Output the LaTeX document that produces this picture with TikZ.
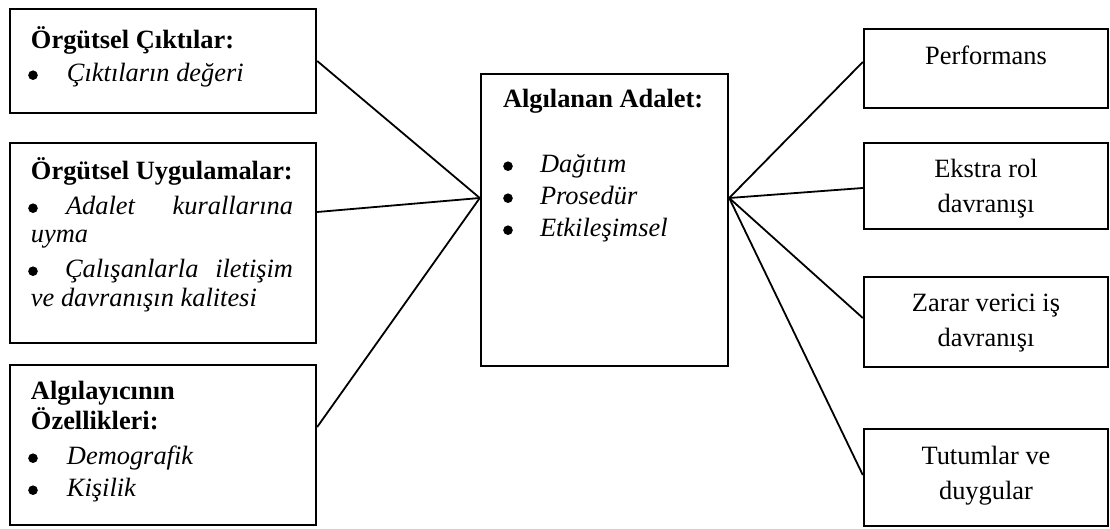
\documentclass[tikz,border=0pt]{standalone}
\usepackage{fontspec}
\setmainfont{Liberation Serif}
\usetikzlibrary{fit}
\tikzset{
  box/.style={draw, line width=1.2pt, inner sep=0pt, fill=none},
  link/.style={draw, line width=0.9pt},
  txt/.style={inner sep=0pt, outer sep=0pt, anchor=base west, font=\fs},
  ctr/.style={inner sep=0pt, outer sep=0pt, anchor=base, font=\fs},
  dot/.style={circle, fill, inner sep=0pt, minimum size=4.8pt, yshift=3.4pt},
}
\newcommand{\fs}{\fontsize{13.2pt}{16pt}\selectfont}
\begin{document}
\begin{tikzpicture}[x=0.5pt, y=-0.5pt]
\useasboundingbox (0,0) rectangle (1110,529);

% boxes
\node[box, fit={(10,9)(316,113)}]   (out)  {};
\node[box, fit={(10,143)(316,343)}] (prac) {};
\node[box, fit={(10,365)(316,525)}] (perc) {};
\node[box, fit={(481,74)(728,366)}] (just) {};
\node[box, fit={(864,29)(1108,108)}]  (perf) {};
\node[box, fit={(864,143)(1108,229)}] (extra) {};
\node[box, fit={(864,277)(1108,367)}] (harm) {};
\node[box, fit={(864,429)(1108,526)}] (att) {};

% left box 1
\node[txt] (t1a) at (31,49) {\textbf{Örgütsel Çıktılar:}};
\node[dot] (d1a) at (33,82) {};
\node[txt] (t1b) at (67,82) {\textit{Çıktıların değeri}};

% left box 2
\node[txt] (t2a) at (31,180) {\textbf{Örgütsel Uygulamalar:}};
\node[dot] (d2a) at (33,215) {};
\node[txt] (t2b) at (66,215) {\makebox[113.5pt][s]{\itshape Adalet kurallarına}};
\node[txt] (t2c) at (31,243) {\textit{uyma}};
\node[dot] (d2b) at (33,278) {};
\node[txt] (t2d) at (65,278) {\makebox[114pt][s]{\itshape Çalışanlarla iletişim}};
\node[txt] (t2e) at (31,307) {\textit{ve davranışın kalitesi}};

% left box 3
\node[txt] (t3a) at (31,400) {\textbf{Algılayıcının}};
\node[txt] (t3b) at (31,430) {\textbf{Özellikleri:}};
\node[dot] (d3a) at (33,465) {};
\node[txt] (t3c) at (67,465) {\textit{Demografik}};
\node[dot] (d3b) at (33,497) {};
\node[txt] (t3d) at (67,497) {\textit{Kişilik}};

% centre box
\node[txt] (tca) at (503,108) {\textbf{Algılanan Adalet:}};
\node[dot] (dc1) at (508,173) {};
\node[txt] (tc1) at (540,173) {\textit{Dağıtım}};
\node[dot] (dc2) at (508,205) {};
\node[txt] (tc2) at (540,205) {\textit{Prosedür}};
\node[dot] (dc3) at (508,237) {};
\node[txt] (tc3) at (540,237) {\textit{Etkileşimsel}};

% right boxes
\node[ctr] (tr1) at (986,65) {Performans};
\node[ctr] (tr2a) at (986,178) {Ekstra rol};
\node[ctr] (tr2b) at (986,213) {davranışı};
\node[ctr] (tr3a) at (986,312) {Zarar verici iş};
\node[ctr] (tr3b) at (986,347) {davranışı};
\node[ctr] (tr4a) at (986,465) {Tutumlar ve};
\node[ctr] (tr4b) at (986,500) {duygular};

% connectors into the centre box
\coordinate (jin)  at ([yshift=11pt]just.west);
\coordinate (jout) at ([yshift=11pt]just.east);
\draw[link] (out.east) -- (jin);
\draw[link] ([yshift=15.5pt]prac.east) -- (jin);
\draw[link] ([yshift=9pt]perc.east) -- (jin);

% connectors out of the centre box
\draw[link] (jout) -- ([yshift=3.25pt]perf.west);
\draw[link] (jout) -- ([yshift=-1pt]extra.west);
\draw[link] (jout) -- ([yshift=2pt]harm.west);
\draw[link] (jout) -- ([yshift=1.25pt]att.west);
\end{tikzpicture}
\end{document}
